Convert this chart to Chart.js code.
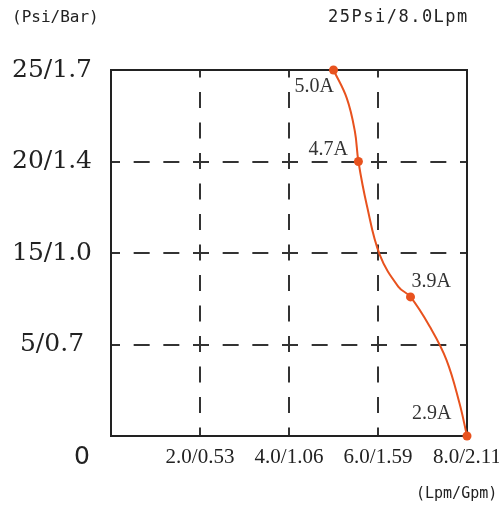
<!DOCTYPE html>
<html><head><meta charset="utf-8">
<script src="https://cdn.jsdelivr.net/npm/chart.js@4"></script>
<style>html,body{margin:0;padding:0;background:#fff}#wrap{width:499px;height:506px}</style>
</head><body><div id="wrap"><canvas id="c" width="499" height="506"></canvas></div>
<script>
// ---- data ----
const xTickValues = [0, 2, 4, 6, 8];
const xTickLabels = ['', '2.0/0.53', '4.0/1.06', '6.0/1.59', '8.0/2.11'];
const yTickValues = [0, 1, 2, 3, 4];
const yTickLabels = ['0', '5/0.7', '15/1.0', '20/1.4', '25/1.7'];
// curve (flow Lpm, pressure grid step)
const curveX = [5.00, 5.30, 5.48, 5.56, 5.75, 6.04, 6.46, 6.73, 7.17, 7.54, 7.83, 8.00];
const curveY = [4.00, 3.69, 3.33, 3.00, 2.52, 1.98, 1.63, 1.52, 1.19, 0.83, 0.36, 0.00];
// labelled operating points
const markerX = [5.00, 5.56, 6.73, 8.00];
const markerY = [4.00, 3.00, 1.52, 0.00];
const markerLabels = ['5.0A', '4.7A', '3.9A', '2.9A'];
const yUnitText = '(Psi/Bar)';
const ratingText = '25Psi/8.0Lpm';
const xUnitText = '(Lpm/Gpm)';

const ORANGE = '#E8521E';
const GRID = '#333333';
const INK = '#222222';

const curveData = curveX.map((x, i) => ({x, y: curveY[i]}));
const markerData = markerX.map((x, i) => ({x, y: markerY[i]}));
const labelOffsets = [[-39, 17], [-50, -12], [1, -15], [-55, -22]];

const textPlugin = {
  id: 'texts',
  afterDraw(chart) {
    const ctx = chart.ctx;
    const xs = chart.scales.x, ys = chart.scales.y;
    ctx.save();
    ctx.fillStyle = INK;
    ctx.textBaseline = 'middle';
    ctx.font = '16px "DejaVu Sans Mono"';
    ctx.textAlign = 'left';
    ctx.fillText(yUnitText, 12, 18);
    ctx.font = '17px "DejaVu Sans Mono"';
    try { ctx.letterSpacing = '1.5px'; } catch (e) {}
    ctx.fillText(ratingText, 328, 18);
    try { ctx.letterSpacing = '0px'; } catch (e) {}
    ctx.font = '15px "DejaVu Sans Mono"';
    ctx.fillText(xUnitText, 416, 494);
    ctx.font = '25px "DejaVu Sans"';
    ctx.textAlign = 'center';
    ctx.fillText(yTickLabels[0], 82, ys.getPixelForValue(yTickValues[0]) + 21);
    ctx.font = '20px "Liberation Serif"';
    ctx.fillStyle = '#333';
    ctx.textAlign = 'left';
    markerData.forEach((p, i) => {
      const px = xs.getPixelForValue(p.x), py = ys.getPixelForValue(p.y);
      ctx.fillText(markerLabels[i], px + labelOffsets[i][0], py + labelOffsets[i][1]);
    });
    ctx.restore();
  }
};

new Chart(document.getElementById('c'), {
  type: 'scatter',
  data: {
    datasets: [
      {
        data: curveData, showLine: true, pointRadius: 0, borderColor: ORANGE, borderWidth: 2,
        tension: 0.4, fill: false, clip: false
      },
      {
        data: markerData, showLine: false, pointRadius: 4.5, pointBackgroundColor: ORANGE,
        pointBorderColor: ORANGE, pointBorderWidth: 0, clip: false
      }
    ]
  },
  options: {
    responsive: false,
    animation: false,
    devicePixelRatio: 1,
    layout: {padding: {top: 70, right: 32, bottom: 0, left: 0}},
    plugins: {legend: {display: false}, tooltip: {enabled: false}},
    scales: {
      x: {
        type: 'linear', position: 'bottom', min: 0, max: 8,
        afterBuildTicks: s => { s.ticks = xTickValues.map(v => ({value: v})); },
        afterFit: s => { s.height = 70; s.paddingLeft = 0; s.paddingRight = 0; },
        ticks: {
          autoSkip: false, maxRotation: 0, padding: 9, color: INK,
          font: {family: 'Liberation Serif', size: 21},
          callback: v => xTickLabels[xTickValues.indexOf(v)]
        },
        grid: {
          drawTicks: false, lineWidth: 2,
          color: c => (c.tick && (c.tick.value === 0 || c.tick.value === 8)) ? 'rgba(0,0,0,0)' : GRID
        },
        border: {display: true, color: INK, width: 2, dash: [16, 91.5 / 3 - 16], dashOffset: 8.5}
      },
      y: {
        type: 'linear', position: 'left', min: 0, max: 4,
        afterBuildTicks: s => { s.ticks = yTickValues.map(v => ({value: v})); },
        afterFit: s => { s.width = 111; s.paddingTop = 0; s.paddingBottom = 0; },
        ticks: {
          autoSkip: false, padding: 19, crossAlign: 'center', color: INK,
          font: {family: 'DejaVu Serif', size: 25},
          callback: v => v === 0 ? '' : yTickLabels[yTickValues.indexOf(v)]
        },
        grid: {
          drawTicks: false, lineWidth: 2,
          color: c => (c.tick && (c.tick.value === 0 || c.tick.value === 4)) ? 'rgba(0,0,0,0)' : GRID
        },
        border: {display: true, color: INK, width: 2, dash: [16, 89 / 3 - 16], dashOffset: 8}
      },
      x2: {
        type: 'linear', position: 'top', min: 0, max: 8,
        ticks: {display: false}, grid: {display: false, drawTicks: false},
        border: {display: true, color: INK, width: 2},
        afterFit: s => { s.height = 0; }
      },
      y2: {
        type: 'linear', position: 'right', min: 0, max: 4,
        ticks: {display: false}, grid: {display: false, drawTicks: false},
        border: {display: true, color: INK, width: 2},
        afterFit: s => { s.width = 0; }
      }
    }
  },
  plugins: [textPlugin]
});
</script>
</body></html>
